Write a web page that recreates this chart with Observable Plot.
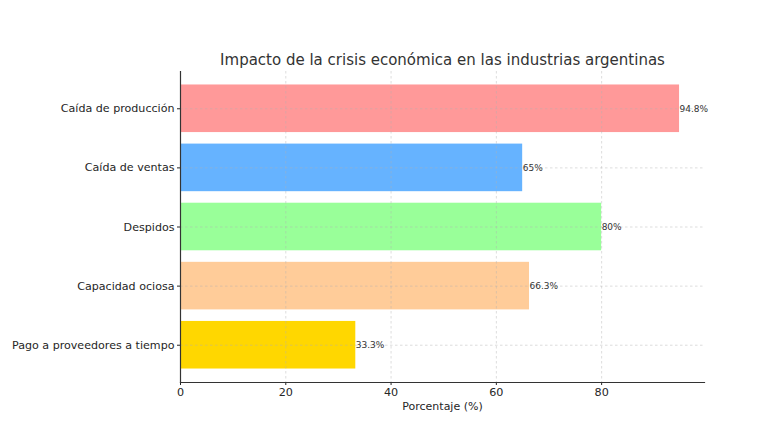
<!DOCTYPE html>
<html>
<head>
<meta charset="utf-8">
<script src="https://cdn.jsdelivr.net/npm/d3@7"></script>
<script src="https://cdn.jsdelivr.net/npm/@observablehq/plot@0.6"></script>
<style>
  html, body { margin: 0; padding: 0; background: #fff; }
  svg { font-family: "DejaVu Sans", sans-serif; }
</style>
</head>
<body>
<div id="chart"></div>
<script>
const categories = ["Caída de producción", "Caída de ventas", "Despidos", "Capacidad ociosa", "Pago a proveedores a tiempo"];
const values = [94.8, 65, 80, 66.3, 33.3];
const colors = ["#ff9999", "#66b3ff", "#99ff99", "#ffcc99", "#ffd700"];
const xTicks = [0, 20, 40, 60, 80];
const title = "Impacto de la crisis económica en las industrias argentinas";
const xLabel = "Porcentaje (%)";

const data = categories.map((c, i) => ({cat: c, value: values[i], color: colors[i]}));

const chart = Plot.plot({
  width: 768,
  height: 428,
  marginLeft: 180,
  marginRight: 64,
  marginTop: 71,
  marginBottom: 46,
  style: {fontFamily: "DejaVu Sans, sans-serif", color: "#262626", background: "#fff"},
  x: {domain: [0, 99.54], ticks: xTicks, label: null},
  y: {type: "band", domain: categories, paddingInner: 0.195, paddingOuter: 0.228, round: false, label: null},
  marks: [
    Plot.barX(data, {x: "value", y: "cat", fill: "color", inset: 0}),
    Plot.ruleX(xTicks, {stroke: "#b0b0b0", strokeDasharray: "2.5,2.5", strokeWidth: 0.8, strokeOpacity: 0.55}),
    Plot.ruleY(categories, {y: d => d, x1: 0, x2: 99.54, stroke: "#b0b0b0", strokeDasharray: "2.5,2.5", strokeWidth: 0.8, strokeOpacity: 0.55}),
    Plot.text(data, {x: "value", y: "cat", text: d => d.value + "%", textAnchor: "start", dx: 0, fontSize: 9, fill: "#333"}),
    Plot.axisX({ticks: xTicks, tickSize: 3, tickPadding: 3, fontSize: 11.2, label: null, stroke: "#262626", fill: "#262626"}),
    Plot.axisY({tickSize: 3, tickPadding: 3, fontSize: 11.1, label: null, stroke: "#262626", fill: "#262626"}),
    Plot.frame({anchor: "left", stroke: "#333", strokeWidth: 1.2}),
    Plot.frame({anchor: "bottom", stroke: "#333", strokeWidth: 1.2}),
    Plot.text([title], {frameAnchor: "top", dy: -7, lineAnchor: "bottom", fontSize: 15, fill: "#333"}),
    Plot.text([xLabel], {frameAnchor: "bottom", dy: 24, lineAnchor: "middle", fontSize: 11, fill: "#262626"})
  ]
});
document.getElementById("chart").appendChild(chart);
</script>
</body>
</html>
